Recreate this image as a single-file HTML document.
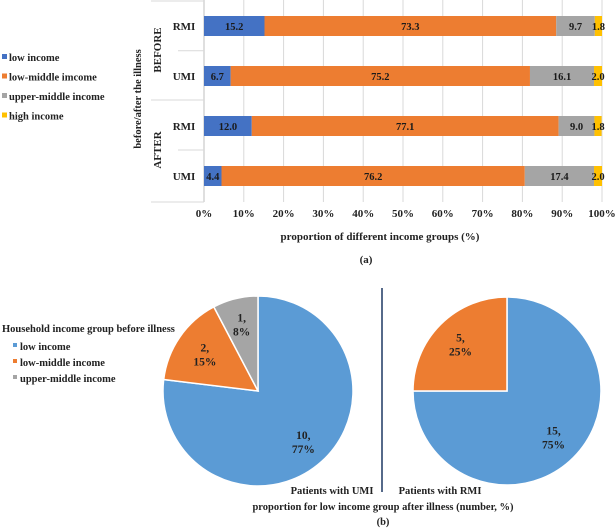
<!DOCTYPE html>
<html><head><meta charset="utf-8"><style>
body{margin:0;background:#fff;width:615px;height:528px;overflow:hidden}
svg{display:block;font-family:"Liberation Serif",serif;font-weight:bold}
</style></head><body>
<svg id="c" width="615" height="528">
</svg>
<script>
const cats=["RMI","UMI","RMI","UMI"];
const groups=["BEFORE","AFTER"];
const seriesNames=["low income","low-middle imcome","upper-middle income","high income"];
const lowInc=[15.2,6.7,12.0,4.4];
const lowMid=[73.3,75.2,77.1,76.2];
const upMid=[9.7,16.1,9.0,17.4];
const highInc=[1.8,2.0,1.8,2.0];
const xTicks=[0,10,20,30,40,50,60,70,80,90,100];
const pieNames=["low income","low-middle income","upper-middle income"];
const pieUMI=[10,2,1];
const pieRMI=[15,5];
const barColors=["#4472c4","#ed7d31","#a5a5a5","#ffc000"];
const pieColors=["#5b9bd5","#ed7d31","#a5a5a5"];
const NS="http://www.w3.org/2000/svg";
const svg=document.getElementById('c');
function mk(t,a,txt,p){const e=document.createElementNS(NS,t);for(const k in a)e.setAttribute(k,a[k]);if(txt!=null)e.textContent=txt;(p||svg).appendChild(e);return e;}
const x0=204,x1=602;
const xs=v=>x0+(x1-x0)*v/100;
const rowTop=[16,66,116,166],barH=20;
xTicks.forEach(t=>{
const g=mk('line',{x1:xs(t),x2:xs(t),y1:0,y2:202,stroke:'#d9d9d9','stroke-width':1});

const l=mk('text',{x:xs(t),y:217,'text-anchor':'middle','font-size':11,fill:'#222'},t+'%');

});
mk('line',{x1:x0,x2:x0,y1:0,y2:202,stroke:'#bfbfbf'});
[1,50.7,100,150,202].forEach((y,i)=>{
const ln=mk('line',{x1:(i==0||i==2||i==4)?151:178,x2:x0,y1:y,y2:y,stroke:'#d9d9d9'});

});
const all=[lowInc,lowMid,upMid,highInc];
cats.forEach((c,i)=>{
let acc=0;
const lab=mk('text',{x:184,y:rowTop[i]+barH/2+4,'text-anchor':'middle','font-size':11,fill:'#222'},c);

all.forEach((s,k)=>{
const v=s[i];
const r=mk('rect',{x:xs(acc),y:rowTop[i],width:xs(acc+v)-xs(acc),height:barH,fill:barColors[k]});

const tx=mk('text',{x:(xs(acc)+xs(acc+v))/2,y:rowTop[i]+barH/2+4,'text-anchor':'middle','font-size':10.5,fill:'#1a1a1a'},v.toFixed(1));

acc+=v;
});
});
groups.forEach((g,i)=>{
const cy=i?150:50;
const t=mk('text',{x:0,y:0,transform:`translate(161,${cy}) rotate(-90)`,'text-anchor':'middle','font-size':11,fill:'#222'},g);

});
const yt=mk('text',{transform:'translate(141,99) rotate(-90)','text-anchor':'middle','font-size':10.5,fill:'#222'},'before/after the illness');

const xt=mk('text',{x:380,y:240,'text-anchor':'middle','font-size':11,fill:'#222'},'proportion of different income groups (%)');

const pa=mk('text',{x:366,y:263,'text-anchor':'middle','font-size':11,fill:'#222'},'(a)');

seriesNames.forEach((n,i)=>{
const y=58+i*19.5;
const m=mk('rect',{x:2,y:y-4,width:5,height:5,fill:barColors[i]});

const t=mk('text',{x:9,y:y+3,'font-size':10.5,fill:'#222'},n);

});
function pie(vals,cx,cy,r,labels){
const tot=vals.reduce((a,b)=>a+b,0);let a=0;
vals.forEach((v,i)=>{
const a0=a/tot*2*Math.PI,a1=(a+v)/tot*2*Math.PI;
const p0=[cx+r*Math.sin(a0),cy-r*Math.cos(a0)],p1=[cx+r*Math.sin(a1),cy-r*Math.cos(a1)];
const large=(a1-a0)>Math.PI?1:0;
const s=mk('path',{d:`M${cx},${cy}L${p0[0]},${p0[1]}A${r},${r} 0 ${large} 1 ${p1[0]},${p1[1]}Z`,fill:pieColors[i],stroke:'#fff','stroke-width':1.5});

const am=(a0+a1)/2;const lr=labels[i]*r;
const lx=cx+lr*Math.sin(am),ly=cy-lr*Math.cos(am);
const pct=Math.round(v/tot*100);
const t1=mk('text',{x:lx,y:ly-3,'text-anchor':'middle','font-size':11.5,fill:'#222'},v+',');

const t2=mk('text',{x:lx,y:ly+11,'text-anchor':'middle','font-size':11.5,fill:'#222'},pct+'%');

a+=v;
});
}
pie(pieUMI,258,391,95,[0.72,0.68,0.72]);
pie(pieRMI,507,391,94,[0.7,0.7]);
const dv=mk('line',{x1:382,x2:382,y1:288,y2:492,stroke:'#1f3864','stroke-width':1.5});

[['Patients with UMI',332],['Patients with RMI',440]].forEach(([t,x])=>{
const e=mk('text',{x:x,y:494,'text-anchor':'middle','font-size':10.5,fill:'#222'},t);

});
const bt=mk('text',{x:383,y:510,'text-anchor':'middle','font-size':10.5,fill:'#222'},'proportion for low income group after illness (number, %)');

const pb=mk('text',{x:383,y:525,'text-anchor':'middle','font-size':10.5,fill:'#222'},'(b)');

const lt=mk('text',{x:2,y:332,'font-size':10.5,fill:'#222'},'Household income group before illness');

pieNames.forEach((n,i)=>{
const y=347+i*16;
const m=mk('rect',{x:13,y:y-4,width:4,height:4,fill:pieColors[i]});

const t=mk('text',{x:20,y:y+3,'font-size':10.5,fill:'#222'},n);

});
</script>
</body></html>
